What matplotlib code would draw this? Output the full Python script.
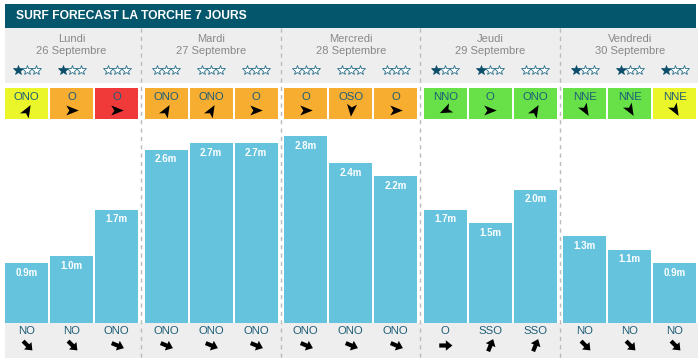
import matplotlib
matplotlib.use("Agg")
import matplotlib.pyplot as plt
from matplotlib.patches import Rectangle
from matplotlib.path import Path
from matplotlib.markers import MarkerStyle
from matplotlib.transforms import Affine2D

plt.rcParams['font.family'] = ['Liberation Sans', 'DejaVu Sans']

# ---------------- data ----------------
title = "SURF FORECAST LA TORCHE 7 JOURS"
day_names = ["Lundi", "Mardi", "Mercredi", "Jeudi", "Vendredi"]
day_dates = ["26 Septembre", "27 Septembre", "28 Septembre", "29 Septembre", "30 Septembre"]
stars = [1, 1, 0, 0, 0, 0, 0, 0, 0, 1, 1, 0, 1, 1, 1]
wind_dirs = ["ONO", "O", "O", "ONO", "ONO", "O", "O", "OSO", "O",
             "NNO", "O", "ONO", "NNE", "NNE", "NNE"]
wind_levels = ["y", "o", "r", "o", "o", "o", "o", "o", "o",
               "g", "g", "g", "g", "g", "y"]
wave_heights = [0.9, 1.0, 1.7, 2.6, 2.7, 2.7, 2.8, 2.4, 2.2,
                1.7, 1.5, 2.0, 1.3, 1.1, 0.9]
swell_dirs = ["NO", "NO", "ONO", "ONO", "ONO", "ONO", "ONO", "ONO", "ONO",
              "O", "SSO", "SSO", "NO", "NO", "NO"]

# ---------------- style ----------------
level_colors = {"y": "#eaf62a", "o": "#f7ad2f", "r": "#f03a3a", "g": "#67e147"}
compass = {"N": 0, "NNE": 22.5, "NE": 45, "ENE": 67.5, "E": 90, "ESE": 112.5,
           "SE": 135, "SSE": 157.5, "S": 180, "SSO": 202.5, "SO": 225,
           "OSO": 247.5, "O": 270, "ONO": 292.5, "NO": 315, "NNO": 337.5}
# visual orientation of the wind icon (as drawn in the reference)
wind_icon_angle = {"O": 0, "ONO": 60, "OSO": -95, "NNO": 205, "NNE": -60}

BAR = "#65c3de"
TEAL = "#03566c"
GRAY = "#eeeeee"
TXT = "#1d5d78"

W, H = 700, 363
fig = plt.figure(figsize=(W / 100, H / 100), dpi=100)
fig.patch.set_facecolor("white")

deco = fig.add_axes([0, 0, 1, 1])
deco.set_xlim(0, W)
deco.set_ylim(H, 0)
deco.axis("off")

day_pitch = 139.6
slot_pitch = 45
box_w = 43
x0 = 5


def slot_left(i):
    d, s = divmod(i, 3)
    return x0 + d * day_pitch + s * slot_pitch


n = len(wave_heights)
centers = [slot_left(i) + box_w / 2 for i in range(n)]

# title bar
deco.add_patch(Rectangle((5, 4), 691, 23.5, color=TEAL, lw=0))
deco.text(16, 16, title, color="white", fontsize=8.7, fontweight="bold",
          ha="left", va="center")

# header gray band & bottom band
deco.add_patch(Rectangle((5, 27.5), 693, 55.5, color=GRAY, lw=0))
deco.add_patch(Rectangle((5, 323), 693, 35, color=GRAY, lw=0))

# separators
for d in range(1, 5):
    xs = x0 + d * day_pitch - 3.3
    deco.plot([xs, xs], [28, 358], color="#bbbbbb", lw=1, ls=(0, (3, 3)))

# day names
for d in range(5):
    cx = x0 + d * day_pitch + (2 * slot_pitch + box_w) / 2
    deco.text(cx, 39.5, day_names[d], color="#888888", fontsize=8, ha="center", va="center")
    deco.text(cx, 51.5, day_dates[d], color="#888888", fontsize=8, ha="center", va="center")

# stars
for i in range(n):
    for k in range(3):
        sx = centers[i] + (k - 1) * 9
        if k < stars[i]:
            deco.plot(sx, 70, marker="*", ms=7.5, mfc="#0b4d6a", mec="#0b4d6a", mew=0.5)
        else:
            deco.plot(sx, 70, marker="*", ms=7.5, mfc="white", mec="#2a6f8a", mew=0.6)

# arrow paths
head = Path([(1, 0), (-1, 0.8), (-0.5, 0), (-1, -0.8), (1, 0)],
            [Path.MOVETO, Path.LINETO, Path.LINETO, Path.LINETO, Path.CLOSEPOLY])
block = Path([(1, 0), (0.05, 0.75), (0.05, 0.3), (-0.9, 0.3), (-0.9, -0.3),
              (0.05, -0.3), (0.05, -0.75), (1, 0)],
             [Path.MOVETO] + [Path.LINETO] * 6 + [Path.CLOSEPOLY])

# wind boxes
for i in range(n):
    deco.add_patch(Rectangle((slot_left(i), 88), box_w, 30.5,
                             color=level_colors[wind_levels[i]], lw=0))
    deco.text(centers[i], 96.5, wind_dirs[i], color=TXT, fontsize=8.2,
              ha="center", va="center")
    # y axis is inverted in deco: flip angle sign
    m = MarkerStyle(head, transform=Affine2D().rotate_deg(wind_icon_angle[wind_dirs[i]]))
    deco.plot(centers[i], 109.5, marker=m, ms=9, color="black", mew=0)

# swell labels & arrows
for i in range(n):
    deco.text(centers[i], 331.5, swell_dirs[i], color=TXT, fontsize=8.2,
              ha="center", va="center")
    ang = 90 - (compass[swell_dirs[i]] + 180)
    m = MarkerStyle(block, transform=Affine2D().rotate_deg(ang))
    deco.plot(centers[i], 344.5, marker=m, ms=10, color="black", mew=0)

# bars
ax = fig.add_axes([0, (H - 323) / H, 1, 200 / H])
ax.set_xlim(0, W)
ax.set_ylim(0, 3)
ax.axis("off")
ax.patch.set_alpha(0)
ax.bar(centers, wave_heights, width=box_w, color=BAR, lw=0)
for c, h in zip(centers, wave_heights):
    ax.annotate(f"{h:.1f}m", (c, h), xytext=(0, -9.5 * 0.72), textcoords="offset points",
                ha="center", va="center", color="white", fontsize=7, fontweight="bold")

fig.savefig("out.png", dpi=100, facecolor="white")
